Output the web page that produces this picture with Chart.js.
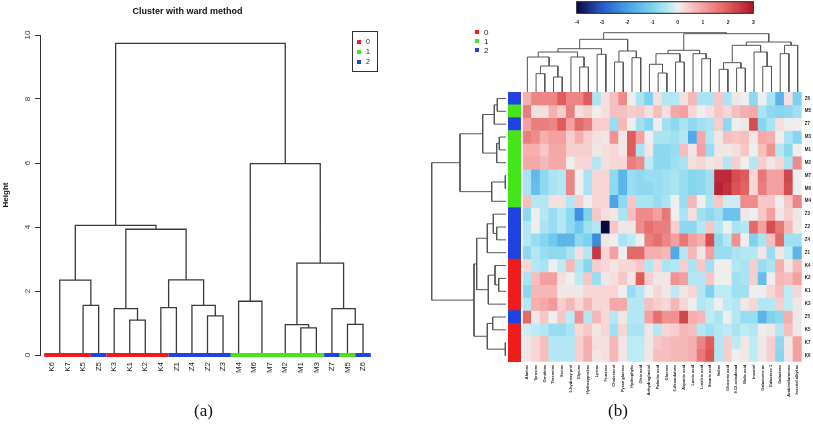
<!DOCTYPE html>
<html>
<head>
<meta charset="utf-8">
<script src="https://cdn.jsdelivr.net/npm/chart.js@4.4.0/dist/chart.umd.min.js"></script>
<style>
  body { margin: 0; background: #fff; width: 813px; height: 440px; position: relative; overflow: hidden; font-family: "Liberation Sans", Arial, sans-serif; }
  canvas { position: absolute; }
  .cap { position: absolute; font-family: "Liberation Serif", "DejaVu Serif", serif; font-size: 17px; color: #111; }
  .lg { position: absolute; font-size: 8px; line-height: 8px; color: #222; }
  .lg i { display: inline-block; width: 4px; height: 4px; margin-right: 5px; vertical-align: 1px; }
</style>
</head>
<body>
<canvas id="dendA" width="400" height="440" style="left:0;top:0"></canvas>
<canvas id="colKey" width="210" height="28" style="left:560px;top:0"></canvas>
<canvas id="colTree" width="279" height="64" style="left:523px;top:28px"></canvas>
<canvas id="rowTree" width="86" height="270" style="left:420px;top:92px"></canvas>
<canvas id="rowSide" width="13" height="270" style="left:508px;top:92px"></canvas>
<canvas id="heat" width="413" height="440" style="left:400px;top:0"></canvas>
<div class="lg" style="left:475px;top:29px"><i style="background:#f21b1b"></i>0</div>
<div class="lg" style="left:475px;top:38px"><i style="background:#44e61a"></i>1</div>
<div class="lg" style="left:475px;top:47px"><i style="background:#2142e0"></i>2</div>
<div class="cap" style="left:194px;top:401px">(a)</div>
<div class="cap" style="left:608px;top:401px">(b)</div>
<script>
const F = '"Liberation Sans", Arial, sans-serif';
const FN = '"Liberation Sans Narrow", "Liberation Sans", Arial, sans-serif';
Chart.defaults.font.family = F;

// ---- panel (a): ward dendrogram ----
const leafLabelsA = ['K6','K7','K5','Z5','K3','K1','K2','K4','Z1','Z4','Z2','Z3','M4','M6','M7','M2','M1','M3','Z7','M5','Z6'];
const leafGroupA = [0,0,0,2,0,0,0,0,2,2,2,2,1,1,1,1,1,1,2,1,2];
// hclust style: negative = leaf position (1-based), positive = earlier merge (1-based)
const mergesA = [
  [-1,-2,0.02], [-3,-4,1.55], [1,2,2.34], [-6,-7,1.09], [-5,4,1.45],
  [-8,-9,1.48], [-11,-12,1.22], [-10,7,1.55], [6,8,2.35], [5,9,3.93],
  [3,10,4.05], [-14,-15,0.02], [-13,12,1.68], [-17,-18,0.85], [-16,14,0.95],
  [-20,-21,0.96], [-19,16,1.45], [15,17,2.87], [13,18,5.98], [11,19,9.74]
];
const groupNames = ['0','1','2'];

// ---- panel (b): heatmap ----
const rowLabels = ['Z6','M5','Z7','M3','M1','M2','M7','M6','M4','Z3','Z2','Z4','Z1','K4','K2','K1','K3','Z5','K5','K7','K6'];
const rowGroup = [2,1,2,1,1,1,1,1,1,2,2,2,2,0,0,0,0,2,0,0,0];
const colLabels = ['Alanine','Tyrosine','Ornithine','Threonine','Serine','5-hydroxy prol','Glycine','Hydroxyproline',
  'Lysine','Fructose','Cholesterol','Pyran glucose','Hydrophylic','Oleic acid','Anhydroglucitol','Palmitic acid',
  'Glucose','6-deoxidulose','Aspartic acid','Lactic acid','Linoleic acid','Stearic acid','Valine','Gluconic acid',
  '9,12-octadecad','Malic acid','Inositol','Galactonic ac','Galactose 1','Galactose','Arabinofuranose','Inositol alkyl ac'];
const heat = [
  [0.8,1.4,1.4,1.4,2.0,1.4,1.4,2.0,-0.5,0.2,0.6,1.3,0.0,-0.5,-1.0,0.2,-0.4,-0.4,0.2,0.7,-0.5,-0.5,0.5,-0.5,0.1,0.0,-0.8,0.0,-0.5,-1.6,0.2,-1.0],
  [1.5,0.2,0.2,0.8,0.4,1.5,0.2,0.4,0.0,0.2,0.6,0.6,0.4,0.5,0.2,0.6,0.2,0.9,1.0,0.3,0.0,0.2,0.5,0.3,0.6,0.8,0.9,-0.5,-0.8,-0.9,-0.8,-0.6],
  [1.0,1.5,1.5,1.4,2.0,1.0,1.8,1.5,0.4,0.4,-0.7,0.7,0.0,-0.6,-0.9,0.0,-0.6,-0.8,-0.5,-0.8,-0.6,-0.5,0.4,-0.8,0.0,0.1,2.2,-0.9,-0.5,0.2,0.0,0.0],
  [1.5,1.3,0.8,1.0,1.0,0.4,0.8,0.4,0.2,0.1,1.2,0.1,2.0,1.0,0.0,-0.5,-0.5,-0.6,-0.4,-1.8,0.9,-0.4,0.1,0.6,0.5,0.6,0.1,0.9,0.8,0.0,-0.5,-0.9],
  [0.8,0.8,0.5,0.9,0.9,0.4,0.4,0.4,0.1,0.2,0.3,0.1,2.0,-0.5,0.1,-0.8,-0.8,-0.7,0.6,0.1,1.0,-0.7,0.1,0.1,0.2,0.5,0.0,0.6,1.2,-0.4,-0.8,0.0],
  [0.9,0.9,0.7,0.9,0.9,0.0,0.3,0.3,-0.4,0.2,0.3,0.3,1.5,1.3,-0.3,-0.8,-0.8,-0.6,-0.5,0.2,0.3,0.1,0.2,-0.4,0.4,0.0,-0.4,0.4,0.1,0.3,-0.5,1.3],
  [-0.5,-1.5,-0.8,-0.5,-0.4,1.4,0.0,-0.5,0.3,0.3,-0.8,-1.6,-0.7,-0.8,-0.7,-0.7,-0.6,-0.5,-0.7,-0.9,-0.8,-0.6,2.7,2.7,2.2,2.0,0.3,1.6,1.0,1.0,2.3,0.0],
  [-0.5,-1.4,-0.8,-0.5,-0.4,1.4,0.0,-0.5,0.3,0.3,-0.8,-1.6,-0.7,-0.8,-0.8,-0.7,-0.6,-0.5,-0.7,-0.9,-0.8,-0.6,2.8,2.6,2.1,1.9,0.3,1.5,1.0,1.0,2.2,0.0],
  [0.6,-0.4,-0.4,0.2,0.2,-0.4,0.4,0.0,0.3,0.3,-1.9,-0.8,0.5,-0.5,-0.5,-0.7,-0.5,0.0,-0.7,0.7,0.0,-0.5,0.5,-0.2,-0.2,1.3,1.3,0.5,0.5,0.0,0.5,1.4],
  [-0.8,0.0,-0.4,-0.7,-0.4,-0.8,-2.2,-1.0,0.5,0.2,0.1,-0.5,0.6,1.3,1.3,1.0,1.6,0.0,-0.5,0.2,-0.6,-0.8,-0.6,-1.3,-1.3,0.1,0.0,0.5,1.0,0.1,0.4,0.1],
  [-0.4,0.0,-0.5,-0.7,-0.4,-0.8,-1.2,-0.6,-0.4,-4.0,0.5,0.1,0.1,1.3,1.7,1.5,1.5,0.4,-0.8,-0.8,-0.4,0.5,-0.4,0.0,-0.5,-0.4,1.8,1.0,2.2,1.6,0.7,0.1],
  [-0.4,-0.7,-0.9,-1.2,-1.6,-1.6,-0.8,-1.0,-2.3,0.1,0.0,-0.5,-0.3,0.0,1.5,1.7,1.4,1.0,1.6,1.0,0.8,2.2,-0.8,-0.4,1.2,0.0,-1.0,-0.5,0.6,1.8,-0.6,-0.6],
  [-0.8,-0.4,-0.7,-0.8,-0.8,-0.5,0.2,-0.4,2.5,0.3,1.0,0.0,1.8,1.8,0.8,0.8,0.7,-1.8,-0.4,0.7,0.1,1.0,-0.7,-0.7,-0.5,-0.4,-0.4,0.1,-0.7,0.1,-0.3,-1.6],
  [0.3,-0.4,-0.5,0.0,-0.3,0.7,-0.4,-0.9,0.4,0.3,0.1,0.3,0.3,0.5,-0.4,0.3,-0.5,-0.4,0.4,-0.5,0.5,-0.6,0.0,0.0,-0.4,-0.5,0.4,-0.7,-0.5,0.8,0.1,0.7],
  [-0.5,0.6,1.0,1.0,0.2,0.0,-0.3,0.5,-0.7,0.1,0.2,0.5,0.1,2.0,0.4,0.1,0.1,1.2,1.0,-0.4,-0.4,0.5,0.0,0.0,-0.6,-0.5,0.4,-1.4,0.0,0.7,0.6,1.0],
  [-0.8,0.7,0.7,0.7,0.1,0.1,0.1,0.3,0.3,0.3,0.3,0.0,-0.7,-0.4,0.0,0.3,0.1,-0.3,0.1,0.3,-0.4,-1.0,-0.3,-0.3,-0.6,-0.6,0.0,0.0,0.3,0.6,-0.3,0.3],
  [-0.4,0.8,0.9,1.1,0.4,0.7,0.3,0.7,0.3,0.3,0.9,0.9,-0.4,-0.4,0.6,0.4,0.3,0.7,0.3,0.0,-0.4,-0.3,0.0,-0.3,-0.4,0.1,0.3,-0.4,-0.4,0.4,-0.3,0.1],
  [1.8,0.1,0.5,0.0,0.5,-0.3,1.2,-0.4,0.7,0.3,-0.4,0.1,-0.4,-0.4,1.0,1.7,1.2,1.2,2.3,0.8,0.7,-0.3,-0.5,0.0,-0.4,-0.7,-0.7,-1.6,-1.0,-0.8,0.8,0.1],
  [-0.2,-0.3,-0.4,-0.7,-0.7,-0.5,0.3,0.5,0.1,0.3,-0.6,0.3,-0.5,-0.5,0.1,-0.4,0.3,0.4,0.7,0.6,-0.4,-0.6,-0.4,-0.3,-0.5,-0.3,-0.4,0.0,0.1,-0.4,0.6,0.1],
  [0.1,0.3,0.6,-0.4,-0.4,-0.4,0.4,0.8,0.2,0.2,0.7,0.1,-0.3,-0.3,0.1,0.5,0.6,0.7,0.7,0.8,1.4,2.0,-0.4,0.4,-0.3,0.1,-0.3,0.1,0.4,-0.8,0.1,1.0],
  [0.1,0.3,0.6,-0.4,-0.4,-0.4,0.4,0.8,0.1,0.2,0.7,0.1,-0.3,-0.3,0.1,0.6,0.6,0.7,0.7,0.8,1.6,2.1,-0.4,0.4,0.0,0.1,-0.3,0.1,0.4,-0.9,0.1,1.0]
];
// row tree heights and column tree heights are in pixels of the original figure
const mergesRow = [
  [-1,-2,8.7], [1,-3,11.7], [-4,-5,6.7], [3,-6,9.3], [2,4,23.3],
  [-7,-8,0.7], [6,-9,14.3], [5,7,46], [-11,-12,9.3], [-10,9,12.7],
  [10,-13,18.7], [-15,-16,7.3], [-14,12,11], [13,-17,17.7], [11,14,29.3],
  [-18,-19,13.3], [-20,-21,0.7], [16,17,18.7], [15,18,32], [8,19,74.3]
];
const mergesCol = [
  [-2,-3,18.3], [-4,-5,15], [1,2,26], [-1,3,35], [-7,-8,25], [-6,5,35], [4,6,40],
  [-9,-10,37.7], [7,8,43.3], [-11,-12,30], [-13,-14,34.3], [10,11,41], [9,12,52.7],
  [-16,-17,19], [-15,14,27.7], [-18,-19,30], [15,16,38.3], [-21,-22,33.3], [-20,18,38.3],
  [17,19,41.7], [-23,-24,22.7], [-25,-26,24], [21,22,29.3], [-28,-29,25.7], [-27,24,40],
  [23,25,46.7], [-30,-31,38.3], [27,-32,46.7], [26,28,50], [20,29,58.3], [13,30,59.3]
];
const keyTicks = [-4, 3];

const groupColors = ['#f21b1b', '#44e61a', '#2142e0'];
const keyStops = [[-4,[8,8,64]],[-3,[40,90,200]],[-2,[70,160,230]],[-1,[125,210,238]],[-0.3,[188,235,244]],
                  [0,[238,238,238]],[0.3,[248,214,214]],[1,[244,160,160]],[2,[224,92,92]],[3,[176,20,42]]];

function colorFor(v) {
  for (let i = 1; i < keyStops.length; i++) {
    const [v1, c1] = keyStops[i];
    if (v <= v1 || i === keyStops.length - 1) {
      const [v0, c0] = keyStops[i - 1];
      const t = Math.max(0, Math.min(1, (v - v0) / (v1 - v0)));
      const c = c0.map((a, k) => Math.round(a + (c1[k] - a) * t));
      return `rgb(${c[0]},${c[1]},${c[2]})`;
    }
  }
}

function dendro(merges, swap) {
  const pos = [], pts = [];
  const node = c => c < 0 ? {x: -c - 1, h: 0} : pos[c - 1];
  merges.forEach(([a, b, h]) => {
    const p = node(a), q = node(b);
    [[p.x, p.h], [p.x, h], [q.x, h], [q.x, q.h]].forEach(([u, v]) =>
      pts.push(swap ? {x: v, y: u} : {x: u, y: v}));
    pts.push({x: null, y: null});
    pos.push({x: (p.x + q.x) / 2, h});
  });
  return pts;
}

const base = {
  responsive: false,
  animation: false,
  events: [],
  plugins: {legend: {display: false}, tooltip: {enabled: false}}
};

// (a) dendrogram
const barPts = leafLabelsA.map((_, i) => ({x: i - 0.5, y: 0})).concat([{x: leafLabelsA.length - 0.5, y: 0}]);

const yRotLabels = {
  id: 'yRotLabels',
  afterDraw(c) {
    const s = c.scales.y, ctx = c.ctx;
    ctx.save();
    ctx.font = '8px ' + F;
    ctx.fillStyle = '#333';
    ctx.textAlign = 'center';
    ctx.textBaseline = 'bottom';
    s.ticks.forEach(t => {
      ctx.save();
      ctx.translate(s.right - 8, s.getPixelForValue(t.value));
      ctx.rotate(-Math.PI / 2);
      ctx.fillText(String(t.value), 0, 0);
      ctx.restore();
    });
    ctx.restore();
  }
};

const legendBox = {
  id: 'legendBox',
  afterDraw(c) {
    const ctx = c.ctx;
    ctx.save();
    ctx.strokeStyle = '#333';
    ctx.lineWidth = 1;
    ctx.strokeRect(352.5, 31.5, 25, 40);
    ctx.font = '7px ' + F;
    ctx.textBaseline = 'middle';
    groupNames.forEach((g, i) => {
      ctx.fillStyle = groupColors[i];
      ctx.fillRect(357, 40 + i * 10, 4, 4);
      ctx.fillStyle = '#222';
      ctx.fillText(g, 366, 42 + i * 10);
    });
    ctx.restore();
  }
};

new Chart(document.getElementById('dendA'), {
  type: 'scatter',
  data: {
    datasets: [
      {data: barPts, showLine: true, borderWidth: 4, pointRadius: 0, borderCapStyle: 'butt', clip: false,
       borderColor: groupColors[0], segment: {borderColor: s => groupColors[leafGroupA[s.p0DataIndex]]}},
      {data: dendro(mergesA, false), showLine: true, borderColor: '#3a3a3a', borderWidth: 1.3,
       pointRadius: 0, spanGaps: false, clip: false}
    ]
  },
  options: {
    ...base,
    layout: {padding: {right: 25}},
    plugins: {
      ...base.plugins,
      title: {display: true, text: 'Cluster with ward method', color: '#111',
              font: {size: 9, weight: 'bold'}, padding: {top: 6, bottom: 18.2}}
    },
    scales: {
      x: {
        type: 'linear', min: -0.77, max: 20.77,
        afterBuildTicks: s => { s.ticks = leafLabelsA.map((_, i) => ({value: i})); },
        ticks: {autoSkip: false, minRotation: 90, maxRotation: 90, padding: 7, color: '#222',
                font: {size: 8}, callback: (v, i) => leafLabelsA[i]},
        grid: {display: false, drawTicks: false},
        border: {display: false},
        afterFit: s => { s.height = 85; }
      },
      y: {
        min: 0, max: 10,
        ticks: {stepSize: 2, display: false},
        grid: {drawOnChartArea: false, tickLength: 5, color: '#333'},
        border: {color: '#333'},
        title: {display: true, text: 'Height', color: '#111', font: {size: 8, weight: 'bold'},
                padding: {top: 1, bottom: 0}},
        afterFit: s => { s.width = 40; }
      }
    }
  },
  plugins: [yRotLabels, legendBox]
});

// (b) colour key
const keyGradient = {
  id: 'keyGradient',
  beforeDatasetsDraw(c) {
    const {ctx, chartArea: a} = c, s = c.scales.x;
    const g = ctx.createLinearGradient(s.getPixelForValue(-4), 0, s.getPixelForValue(3), 0);
    keyStops.forEach(([v, col]) => g.addColorStop((v + 4) / 7, `rgb(${col.join(',')})`));
    ctx.save();
    ctx.fillStyle = g;
    ctx.fillRect(a.left, a.top, a.width, a.height);
    ctx.strokeStyle = '#222';
    ctx.lineWidth = 1;
    ctx.strokeRect(a.left, a.top, a.width, a.height);
    ctx.restore();
  }
};

new Chart(document.getElementById('colKey'), {
  type: 'scatter',
  data: {datasets: []},
  options: {
    ...base,
    layout: {padding: {left: 16.7, right: 16.7, top: 1.7}},
    scales: {
      x: {type: 'linear', min: keyTicks[0], max: keyTicks[1],
          ticks: {stepSize: 1, padding: 6, color: '#222', font: {size: 5, weight: 'bold'}},
          grid: {display: false, drawTicks: false}, border: {display: false},
          afterFit: s => { s.height = 14.7; }},
      y: {display: false, min: 0, max: 1}
    }
  },
  plugins: [keyGradient]
});

// (b) column dendrogram
new Chart(document.getElementById('colTree'), {
  type: 'scatter',
  data: {datasets: [{data: dendro(mergesCol, false), showLine: true, borderColor: '#555',
                     borderWidth: 1, pointRadius: 0, spanGaps: false, clip: false}]},
  options: {
    ...base,
    scales: {
      x: {display: false, min: -0.5, max: colLabels.length - 0.5},
      y: {display: false, min: 0, max: 64}
    }
  }
});

// (b) row dendrogram
new Chart(document.getElementById('rowTree'), {
  type: 'scatter',
  data: {datasets: [{data: dendro(mergesRow, true), showLine: true, borderColor: '#555',
                     borderWidth: 1, pointRadius: 0, spanGaps: false, clip: false}]},
  options: {
    ...base,
    scales: {
      x: {display: false, reverse: true, min: 0, max: 86},
      y: {display: false, reverse: true, min: -0.5, max: rowLabels.length - 0.5}
    }
  }
});

// (b) row side colours
new Chart(document.getElementById('rowSide'), {
  type: 'bar',
  data: {
    labels: rowLabels,
    datasets: [{data: rowLabels.map(() => [0, 1]), backgroundColor: rowGroup.map(g => groupColors[g]),
                borderWidth: 0, categoryPercentage: 1, barPercentage: 1}]
  },
  options: {
    ...base,
    indexAxis: 'y',
    scales: {x: {display: false, min: 0, max: 1}, y: {display: false}}
  }
});

// (b) heatmap
new Chart(document.getElementById('heat'), {
  type: 'bar',
  data: {
    labels: colLabels,
    datasets: heat.map((row, r) => ({
      data: row.map(() => [r, r + 1]),
      backgroundColor: row.map(colorFor),
      borderWidth: 0, grouped: false, categoryPercentage: 1, barPercentage: 1
    }))
  },
  options: {
    ...base,
    layout: {padding: {left: 122.7, top: 92}},
    scales: {
      x: {
        type: 'category',
        ticks: {autoSkip: false, minRotation: 90, maxRotation: 90, padding: 3, color: '#222',
                font: {size: 4, weight: 'bold', family: FN}},
        grid: {display: false, drawTicks: false}, border: {display: false},
        afterFit: s => { s.height = 78.3; }
      },
      y: {
        type: 'linear', position: 'right', reverse: true, min: 0, max: rowLabels.length,
        afterBuildTicks: s => { s.ticks = rowLabels.map((_, i) => ({value: i + 0.5})); },
        ticks: {autoSkip: false, padding: 3, color: '#222', font: {size: 4.5, weight: 'bold'},
                callback: (v, i) => rowLabels[i]},
        grid: {display: false, drawTicks: false}, border: {display: false},
        afterFit: s => { s.width = 11.3; }
      }
    }
  }
});
</script>
</body>
</html>
